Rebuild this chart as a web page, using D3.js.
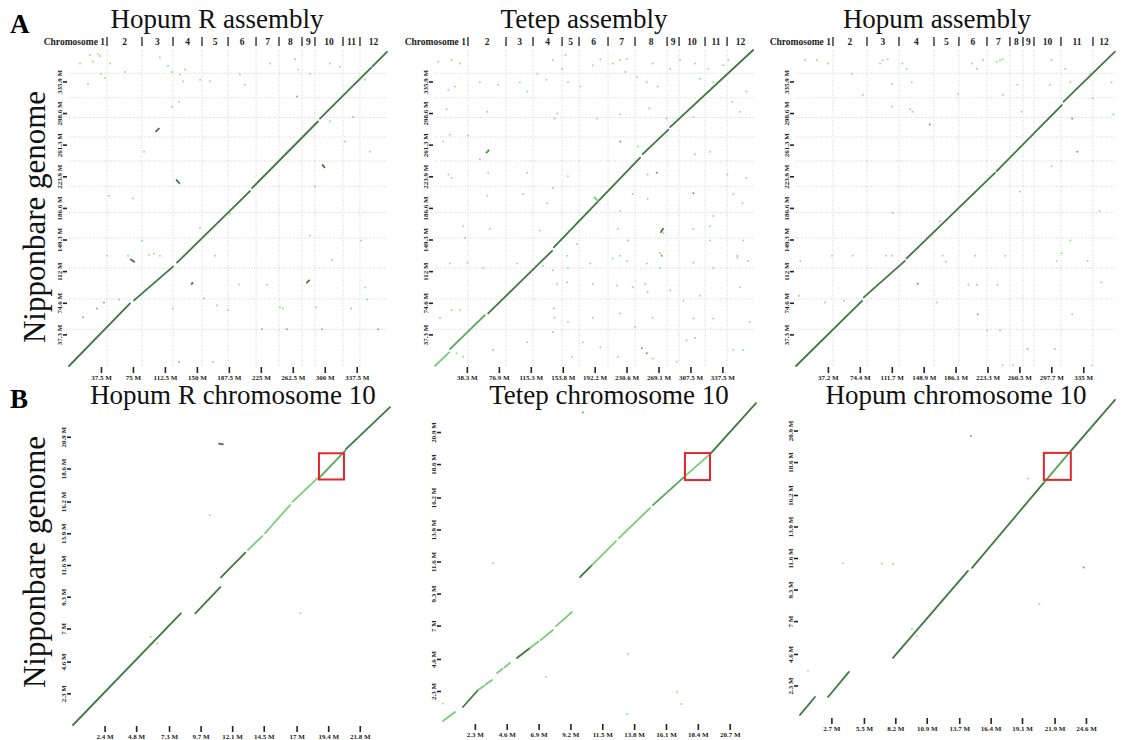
<!DOCTYPE html>
<html>
<head>
<meta charset="utf-8">
<script src="https://cdn.jsdelivr.net/npm/d3@7"></script>
<style>
  body { margin: 0; background: #fff; }
  svg { display: block; }
</style>
</head>
<body>
<svg width="1123" height="740"></svg>
<script>
// chromosome lengths (Mb)
const NIPPONBARE_CHR = [43.3, 35.9, 36.4, 35.5, 29.9, 31.2, 29.7, 28.4, 23.0, 23.2, 29.0, 27.5];
const HOPUMR_CHR = [44.6, 41.0, 36.4, 34.0, 30.6, 32.8, 26.9, 27.0, 15.2, 32.9, 19.9, 31.7];
const TETEP_CHR = [39.7, 45.8, 32.5, 35.0, 20.4, 34.9, 32.5, 38.6, 14.4, 31.3, 26.5, 32.4];
const HOPUM_CHR = [43.1, 39.7, 37.3, 40.8, 29.1, 32.7, 26.8, 15.2, 12.8, 31.5, 37.3, 25.7];

// tick values / labels
const A_Y_TICKS = [37.3, 74.6, 112, 149.3, 186.6, 223.9, 261.3, 298.6, 335.9];
const A_Y_LABELS = ['37.3 M', '74.6 M', '112 M', '149.3 M', '186.6 M', '223.9 M', '261.3 M', '298.6 M', '335.9 M'];
const B_Y_TICKS = [2.3, 4.6, 7, 9.3, 11.6, 13.9, 16.2, 18.6, 20.9];
const B_Y_LABELS = ['2.3 M', '4.6 M', '7 M', '9.3 M', '11.6 M', '13.9 M', '16.2 M', '18.6 M', '20.9 M'];

const HOPUMR_X_TICKS = [37.5, 75, 112.5, 150, 187.5, 225, 262.5, 300, 337.5];
const HOPUMR_X_LABELS = ['37.5 M', '75 M', '112.5 M', '150 M', '187.5 M', '225 M', '262.5 M', '300 M', '337.5 M'];
const TETEP_X_TICKS = [38.3, 76.9, 115.3, 153.8, 192.2, 230.6, 269.1, 307.5, 345.9];
const TETEP_X_LABELS = ['38.3 M', '76.9 M', '115.3 M', '153.8 M', '192.2 M', '230.6 M', '269.1 M', '307.5 M', '337.5 M'];
const HOPUM_X_TICKS = [37.2, 74.4, 111.7, 148.9, 186.1, 223.3, 260.5, 297.7, 335];
const HOPUM_X_LABELS = ['37.2 M', '74.4 M', '111.7 M', '148.9 M', '186.1 M', '223.3 M', '260.5 M', '297.7 M', '335 M'];

const HOPUMR10_X_TICKS = [2.4, 4.8, 7.3, 9.7, 12.1, 14.5, 17, 19.4, 21.8];
const HOPUMR10_X_LABELS = ['2.4 M', '4.8 M', '7.3 M', '9.7 M', '12.1 M', '14.5 M', '17 M', '19.4 M', '21.8 M'];
const TETEP10_X_TICKS = [2.3, 4.6, 6.9, 9.2, 11.5, 13.8, 16.1, 18.4, 20.7];
const TETEP10_X_LABELS = ['2.3 M', '4.6 M', '6.9 M', '9.2 M', '11.5 M', '13.8 M', '16.1 M', '18.4 M', '20.7 M'];
const HOPUM10_X_TICKS = [2.7, 5.5, 8.2, 10.9, 13.7, 16.4, 19.1, 21.9, 24.6];
const HOPUM10_X_LABELS = ['2.7 M', '5.5 M', '8.2 M', '10.9 M', '13.7 M', '16.4 M', '19.1 M', '21.9 M', '24.6 M'];

// alignments: [queryStart, queryEnd, refStart, refEnd, identity]
const HOPUMR_SEGS = [
    [0, 71.6, 0, 73.9, .95], [76.2, 122, 77.4, 117.3, .95], [126.7, 212.3, 122, 206.5, .95],
    [214.7, 292, 210, 288.6, .95], [294.4, 373, 292, 370.7, .95],
    [297.5, 299.8, 237.2, 234.5, .95], [102, 105.5, 277, 280.3, .95], [126.2, 129.5, 219.5, 215.7, .95],
    [72.5, 76.5, 125.7, 123, .9], [279, 281.7, 98.4, 101, .95], [143.8, 145, 97, 98, .95],
];
// dots: [query, ref, identity]
const HOPUMR_DOTS = [
    [24.6, 367, .75], [34, 368, .75], [36.4, 366, .75], [12.9, 357, .75], [28.2, 359, .75], [37.5, 345, .75],
    [42.2, 340, .75], [22.3, 333, .75], [48.1, 357, .75], [65.7, 347, .75], [106.7, 364, .75], [116.1, 354, .75],
    [120.8, 347, .75], [136.1, 350, .75], [130.2, 344, .75], [133.7, 336, .75], [153.7, 338, .75], [165.4, 336, .75],
    [129, 312, .75], [120.8, 306, .75], [200.6, 344, .75], [206.4, 332, .75], [235.8, 357, .75], [265.1, 362, .75],
    [268.6, 350, .75], [282.7, 345, .75], [267.4, 318, .85], [306.2, 357, .75], [317.9, 353, .75], [355.4, 353, .75],
    [347.2, 338, .75], [333.1, 294, .75], [353.1, 253, .75], [323.7, 265, .75], [306.2, 289, .75], [288.6, 212, .75],
    [282.7, 154, .75], [342.5, 148, .75], [88, 253, .75], [75.1, 198, .75], [46.9, 201, .75], [85.6, 148, .75],
    [153.7, 163, .75], [188.9, 180, .75], [16.4, 57.5, .85], [32.8, 68, .85], [41, 75, .85], [58.7, 78.6, .75],
    [44.6, 130, .75], [69.2, 130, .75], [93.8, 131, .75], [99.7, 132.5, .75], [106.7, 130, .75], [144.3, 97.4, .95],
    [122, 68, .75], [129, 4.7, .85], [158.4, 79.8, .75], [168.9, 4.7, .75], [171.3, 130, .75], [173.6, 71.6, .75],
    [186.5, 65.7, .75], [199.4, 96.2, .75], [232.3, 96.2, .75], [247.5, 69.2, .75], [251, 68, .75], [289.7, 69.2, .75],
    [308.5, 125.5, .75], [330.8, 68, .75], [347.2, 92.7, .75], [349.6, 78.6, .75], [226.4, 43.4, .85], [255.7, 43.4, .85],
    [296.8, 43.4, .85], [362.5, 43.4, .85],
];

const TETEP_SEGS = [
    [0, 17, 0, 16, .75], [18, 60, 20, 60, .85], [64, 141, 62, 136, .9], [143, 247, 140, 246, .95],
    [250, 281, 250, 279, .9], [283, 383, 282, 373, .95],
    [192, 196, 199, 195, .75], [272, 274.5, 158, 162, .95], [62, 64.5, 252, 254.5, .95],
];
const TETEP_DOTS = [
    [4, 359, .75], [20, 361, .75], [30, 357, .75], [16, 326, .75], [24, 330, .75], [54, 335, .75], [76, 332, .75],
    [102, 335, .75], [123, 345, .75], [134, 338, .75], [142, 361, .75], [153, 351, .75], [157, 367, .75], [160, 335, .75],
    [175, 330, .75], [190, 355, .75], [199, 362, .75], [214, 357, .75], [223, 361, .75], [231, 362, .75], [229, 347, .75],
    [243, 341, .75], [255, 335, .75], [262, 357, .75], [268, 330, .75], [283, 351, .75], [295, 361, .75], [313, 357, .75],
    [319, 339, .75], [329, 351, .75], [335, 335, .75], [347, 355, .75], [353, 361, .75], [375, 324, .75], [111, 324, .75],
    [14, 303, .75], [63, 300, .75], [144, 292, .75], [147, 298, .75], [195, 292, .75], [223, 297, .75], [279, 292, .75],
    [358, 312, .75], [367, 300, .75], [311, 294, .75], [258, 304, .75],
    [18, 273, .75], [40, 272, .75], [10, 265, .75], [63, 253, .75], [54, 244, .75], [16, 226, .75], [20, 222, .75],
    [64, 228, .75], [111, 228, .75], [160, 224, .75], [223, 265, .95], [244, 259, .75], [267, 228, .95], [256, 226, .75],
    [331, 253, .75], [313, 250, .75], [352, 226, .75], [375, 222, .75], [311, 204, .95], [359, 203, .75], [370, 192, .75],
    [63, 201, .75], [106, 203, .75], [135, 192, .75], [142, 210, .75], [238, 203, .75], [256, 197, .75], [223, 183, .75],
    [34, 165, .75], [66, 162, .75], [335, 177, .75], [331, 165, .75], [311, 162, .75], [275, 157, .75], [220, 162, .75],
    [232, 148, .75], [36, 151, .75], [331, 148, .75], [371, 148, .75], [126, 160, .75], [171, 144, .75], [271, 133, .75],
    [223, 130, .75], [364, 130, .75],
    [18, 121, .75], [39, 122, .75], [99, 121, .75], [130, 118, .75], [58, 116, .75], [142, 113, .75], [159, 130, .75],
    [160, 116, .75], [187, 121, .75], [214, 127, .75], [231, 124, .75], [255, 121, .75], [273, 130, .95], [271, 116, .75],
    [311, 122, .75], [335, 116, .75], [364, 128, .75], [377, 124, .75], [20, 66, .75], [30, 66, .75], [147, 97, .75],
    [159, 99, .75], [190, 97, .75], [219, 95, .75], [238, 93, .75], [253, 97, .75], [256, 87, .75], [283, 89, .75],
    [299, 77, .75], [319, 83, .75], [367, 93, .75], [143, 68, .75], [144, 57, .75], [160, 52, .75], [190, 57, .75],
    [223, 62, .75], [241, 46, .75], [262, 57, .75], [311, 56, .75], [335, 56, .75], [379, 52, .75], [6, 57, .75],
    [111, 28, .75], [142, 40, .75], [178, 28, .75], [199, 22, .75], [249, 21, .95], [255, 15, .95], [303, 30, .75],
    [313, 33, .75], [359, 19, .75], [371, 19, .75], [26, 15, .75], [34, 11, .75], [70, 19, .75], [165, 11, .75],
    [220, 11, .75], [262, 9, .75], [291, 5, .75],
];

const HOPUM_SEGS = [
    [0, 77, 0, 77, .95], [79, 127, 81, 124, .95], [129, 232, 127, 228, .95], [234, 310, 230, 308, .95],
    [312, 372, 312, 371, .95],
];
const HOPUM_DOTS = [
    [10.5, 361, .75], [24.5, 361, .75], [37, 357, .75], [65, 345, .75], [78, 320, .75], [98, 357, .75], [101, 361, .75],
    [107, 362, .75], [112, 333, .75], [124, 357, .75], [129, 351, .75], [135, 335, .75], [112, 306, .75], [133, 303, .75],
    [136, 300, .75], [156, 285, .95], [205, 357, .75], [211, 351, .75], [218, 361, .75], [234, 359, .75], [238, 361, .75],
    [241, 362, .75], [258, 332, .75], [263, 300, .75], [298, 361, .75], [296, 332, .75], [314, 351, .75], [320, 335, .75],
    [322, 292, .95], [346, 316, .75], [370, 297, .75], [189, 321, .75], [241, 320, .75], [368, 335, .75], [343, 345, .75],
    [5, 124, .75], [42, 130, .75], [66, 130, .75], [105, 130, .75], [112, 130, .75], [142, 97, .95], [171, 130, .75],
    [175, 123, .75], [209, 130, .75], [244, 130, .75], [304, 124, .75], [310, 133, .75], [340, 124, .75], [3.5, 83, .75],
    [34, 75, .75], [56, 77, .75], [164, 75, .75], [201, 96, .75], [211, 96, .75], [212, 61, .85], [235, 96, .75],
    [322, 61, .75], [356, 99, .75], [223, 42, .75], [238, 42, .75], [270, 20, .85], [302, 20, .75], [241, 1, .75],
    [253, 1, .75], [345, 1, .75], [328, 253, .95], [298, 236, .75], [261, 206, .75], [168, 171, .75], [113, 181, .75],
    [354, 183, .75], [320, 148, .75],
];

const HOPUMR10_SEGS = [
    [0, 8.2, 0, 8.1, .95], [9.3, 11.2, 8.1, 10.0, .95], [11.25, 13.1, 10.7, 12.5, .95],
    [13.3, 14.4, 12.7, 13.7, .75], [14.6, 16.5, 13.9, 15.95, .75], [16.7, 18.6, 16.2, 17.9, .75],
    [18.7, 20.7, 17.9, 19.9, .85], [20.75, 24.1, 20.0, 23.05, .9], [11.1, 11.4, 20.4, 20.35, .95],
];
const HOPUMR10_DOTS = [[10.4, 15.2, .75], [17.3, 8.1, .75], [5.9, 6.4, .75], [6.4, 5.9, .75]];

const TETEP10_SEGS = [
    [0, 0.87, 0.14, 0.79, .75], [1.44, 2.53, 1.15, 2.37, .9], [2.53, 3.0, 2.37, 2.7, .75], [3.1, 3.54, 2.78, 3.09, .75],
    [3.9, 4.3, 3.59, 3.9, .75], [4.45, 4.84, 4.0, 4.31, .75], [5.34, 6.28, 4.67, 5.39, .9],
    [6.28, 6.9, 5.39, 5.85, .75], [7.05, 7.94, 5.95, 6.68, .75], [8.16, 9.31, 6.96, 7.97, .75],
    [9.89, 10.76, 10.48, 11.34, .95], [10.76, 12.49, 11.34, 13.07, .75], [12.7, 14.95, 13.28, 15.44, .75],
    [15.16, 17.4, 15.65, 17.66, .85], [17.47, 19.2, 17.73, 19.24, .75], [19.35, 22.6, 19.39, 22.98, .95],
];
const TETEP10_DOTS = [
    [10.1, 22.3, .95], [3.6, 11.5, .75], [13.36, 4.95, .75], [7.44, 3.3, .75], [13.3, 0.65, .75],
    [16.9, 2.2, .75], [17.2, 1.36, .75], [0, 1.4, .75],
];

const HOPUM10_SEGS = [
    [0, 1.29, 0.15, 1.46, .95], [2.41, 4.21, 1.46, 3.29, .95], [8.0, 14.45, 4.31, 10.66, .95],
    [14.8, 21.0, 10.88, 17.12, .95], [21.0, 23.3, 17.12, 19.42, .85], [23.3, 27.1, 19.42, 23.14, .95],
];
const HOPUM10_DOTS = [
    [14.7, 20.5, .95], [19.6, 17.4, .75], [0.69, 3.36, .6], [3.7, 11.2, .75], [7.05, 11.2, .75], [8.0, 11.17, .75],
    [9.63, 6.42, .75], [10.06, 5.91, .75], [20.6, 8.25, .75], [24.4, 10.9, .9],
];

// highlighted region [qStart, qEnd, rStart, rEnd]
const HOPUMR10_BOX = [18.7, 20.6, 17.8, 19.7];
const TETEP10_BOX = [17.47, 19.28, 17.45, 19.39];
const HOPUM10_BOX = [20.98, 23.3, 17.3, 19.27];

const FONT = '"Liberation Serif", "Times New Roman", serif';
const svg = d3.select('svg');

const identityColor = d3.scaleThreshold()
    .domain([0.7, 0.8, 0.9])
    .range(['#e6b27c', '#74d174', '#56a656', '#3d7a3d']);

const PANELS = [
    { title: 'Hopum R assembly', tx: 217, ty: 28, left: 69, right: 387, top: 50, bottom: 366, xMax: 373, yMax: 373,
      chr: HOPUMR_CHR, xTicks: HOPUMR_X_TICKS, xLabels: HOPUMR_X_LABELS, yTicks: A_Y_TICKS, yLabels: A_Y_LABELS,
      segs: HOPUMR_SEGS, dots: HOPUMR_DOTS },
    { title: 'Tetep assembly', tx: 584, ty: 28, left: 435, right: 754, top: 50, bottom: 366, xMax: 384, yMax: 373,
      chr: TETEP_CHR, xTicks: TETEP_X_TICKS, xLabels: TETEP_X_LABELS, yTicks: A_Y_TICKS, yLabels: A_Y_LABELS,
      segs: TETEP_SEGS, dots: TETEP_DOTS },
    { title: 'Hopum assembly', tx: 937, ty: 28, left: 796, right: 1115, top: 50, bottom: 366, xMax: 372, yMax: 373,
      chr: HOPUM_CHR, xTicks: HOPUM_X_TICKS, xLabels: HOPUM_X_LABELS, yTicks: A_Y_TICKS, yLabels: A_Y_LABELS,
      segs: HOPUM_SEGS, dots: HOPUM_DOTS },
    { title: 'Hopum R chromosome 10', tx: 233, ty: 404, left: 73, right: 390, top: 405, bottom: 725, xMax: 24.1, yMax: 23.2,
      xTicks: HOPUMR10_X_TICKS, xLabels: HOPUMR10_X_LABELS, yTicks: B_Y_TICKS, yLabels: B_Y_LABELS,
      segs: HOPUMR10_SEGS, dots: HOPUMR10_DOTS, box: HOPUMR10_BOX },
    { title: 'Tetep chromosome 10', tx: 609, ty: 404, left: 443, right: 756, top: 400, bottom: 723, xMax: 22.6, yMax: 23.2,
      xTicks: TETEP10_X_TICKS, xLabels: TETEP10_X_LABELS, yTicks: B_Y_TICKS, yLabels: B_Y_LABELS,
      segs: TETEP10_SEGS, dots: TETEP10_DOTS, box: TETEP10_BOX },
    { title: 'Hopum chromosome 10', tx: 956, ty: 404, left: 800, right: 1115, top: 399, bottom: 717, xMax: 27.1, yMax: 23.2,
      xTicks: HOPUM10_X_TICKS, xLabels: HOPUM10_X_LABELS, yTicks: B_Y_TICKS, yLabels: B_Y_LABELS,
      segs: HOPUM10_SEGS, dots: HOPUM10_DOTS, box: HOPUM10_BOX },
];

PANELS.forEach(drawPanel);

function drawPanel(p) {
    const g = svg.append('g');
    const x = d3.scaleLinear().domain([0, p.xMax]).range([p.left, p.right]);
    const y = d3.scaleLinear().domain([0, p.yMax]).range([p.bottom, p.top]);

    if (p.chr) {
        const xb = Array.from(d3.cumsum(p.chr));
        const yb = Array.from(d3.cumsum(NIPPONBARE_CHR));
        const grid = g.append('g').attr('stroke', '#d2d2d2').attr('stroke-dasharray', '1,1.5');
        grid.selectAll('line.v').data(xb.slice(0, -1)).join('line').classed('v', true)
            .attr('x1', d => x(d)).attr('x2', d => x(d)).attr('y1', p.top).attr('y2', p.bottom);
        grid.selectAll('line.h').data(yb.slice(0, -1)).join('line').classed('h', true)
            .attr('y1', d => y(d)).attr('y2', d => y(d)).attr('x1', p.left).attr('x2', p.right);

        // chromosome header row: "Chromosome 1| 2 | 3 | ..."
        const hdr = g.append('g').attr('font-family', FONT).attr('font-weight', 'bold')
            .attr('font-size', 9.5).attr('fill', '#222');
        hdr.selectAll('text').data(p.chr).join('text')
            .attr('x', (d, i) => i === 0 ? x(xb[0]) - 2 : x(xb[i] - d / 2))
            .attr('y', p.top - 5)
            .attr('text-anchor', (d, i) => i === 0 ? 'end' : 'middle')
            .text((d, i) => i === 0 ? 'Chromosome 1' : String(i + 1));
        hdr.selectAll('line').data(xb.slice(0, -1)).join('line')
            .attr('x1', d => x(d)).attr('x2', d => x(d))
            .attr('y1', p.top - 13).attr('y2', p.top - 4)
            .attr('stroke', '#222').attr('stroke-width', 1.3);
    }

    g.append('g').selectAll('line').data(p.segs).join('line')
        .attr('x1', d => x(d[0])).attr('x2', d => x(d[1]))
        .attr('y1', d => y(d[2])).attr('y2', d => y(d[3]))
        .attr('stroke', d => identityColor(d[4]))
        .attr('stroke-width', 1.8)
        .attr('stroke-linecap', 'round');

    g.append('g').selectAll('circle').data(p.dots).join('circle')
        .attr('cx', d => x(d[0])).attr('cy', d => y(d[1])).attr('r', 1)
        .attr('fill', d => identityColor(d[2]))
        .attr('opacity', 0.75);

    if (p.box) {
        g.append('rect')
            .attr('x', x(p.box[0])).attr('y', y(p.box[3]))
            .attr('width', x(p.box[1]) - x(p.box[0])).attr('height', y(p.box[2]) - y(p.box[3]))
            .attr('fill', 'none').attr('stroke', '#e3262b').attr('stroke-width', 2);
    }

    const xAxis = d3.axisBottom(x).tickValues(p.xTicks).tickFormat((d, i) => p.xLabels[i])
        .tickSize(6).tickPadding(2);
    g.append('g').attr('transform', `translate(0,${p.bottom + 1})`).call(xAxis)
        .call(a => a.select('.domain').remove())
        .call(a => a.selectAll('.tick line').attr('stroke', '#222').attr('stroke-width', 1.6))
        .call(a => a.selectAll('.tick text').attr('font-family', FONT).attr('font-weight', 'bold')
            .attr('font-size', 7).attr('fill', '#222'));

    const yAxis = d3.axisLeft(y).tickValues(p.yTicks).tickFormat((d, i) => p.yLabels[i]).tickSize(4);
    g.append('g').attr('transform', `translate(${p.left - 2},0)`).call(yAxis)
        .call(a => a.select('.domain').remove())
        .call(a => a.selectAll('.tick line').attr('stroke', '#222').attr('stroke-width', 1.6))
        .call(a => a.selectAll('.tick text')
            .attr('transform', 'rotate(-90)').attr('x', 0).attr('y', -5).attr('dy', 0)
            .attr('text-anchor', 'middle')
            .attr('font-family', FONT).attr('font-weight', 'bold').attr('font-size', 7).attr('fill', '#222'));

    g.append('text').attr('x', p.tx).attr('y', p.ty).attr('text-anchor', 'middle')
        .attr('font-family', FONT).attr('font-size', 27).attr('fill', '#111').text(p.title);
}

// panel letters and shared axis label
svg.append('text').attr('x', 10).attr('y', 33).attr('font-family', FONT).attr('font-weight', 'bold')
    .attr('font-size', 27).text('A');
svg.append('text').attr('x', 10).attr('y', 408).attr('font-family', FONT).attr('font-weight', 'bold')
    .attr('font-size', 27).text('B');
[217, 562].forEach(cy => {
    svg.append('text').attr('transform', `translate(45,${cy}) rotate(-90)`).attr('text-anchor', 'middle')
        .attr('font-family', FONT).attr('font-size', 31).attr('fill', '#111').text('Nipponbare genome');
});
</script>
</body>
</html>
